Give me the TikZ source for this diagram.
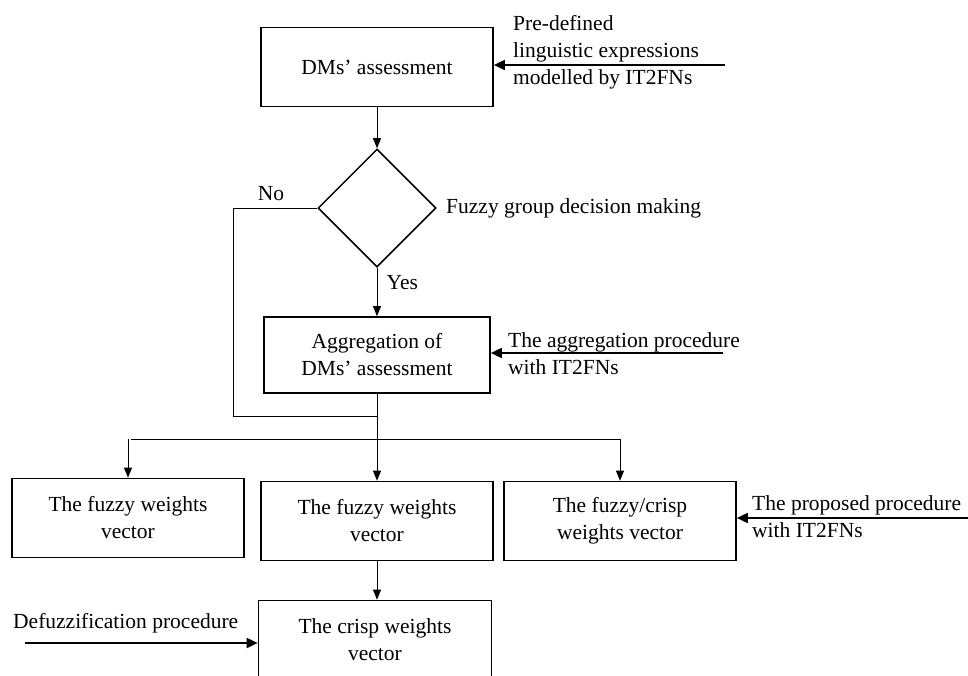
\documentclass[tikz,border=0pt]{standalone}
\usepackage{fontspec}
\setmainfont{Liberation Serif}
\usetikzlibrary{positioning,shapes.geometric,arrows.meta}

\begin{document}
\begin{tikzpicture}[x=1pt, y=-1pt,
  font=\fontsize{21.5}{27}\selectfont,
  main/.style = {draw, line width=1.7pt, minimum width=232pt, minimum height=79pt, align=center, inner sep=2pt},
  dec/.style = {draw, diamond, aspect=1, line width=1.5pt, minimum size=118pt, inner sep=0pt},
  txt/.style = {anchor=west, align=left, inner sep=0pt},
  link/.style = {line width=0.8pt, -{Triangle[length=10pt,width=8pt]}},
  feed/.style = {line width=1.8pt, -{Triangle[length=11pt,width=10pt]}}]
\path[use as bounding box, clip] (0,0) rectangle (968,675);

\node[main] (1) at (377,67) {DMs' assessment};
\node[dec] (2) at (377,208) {};
\node[main, minimum width=226pt, minimum height=76pt] (3) at (377,355) {Aggregation of\\DMs' assessment};
\node[main] (4) at (128,518) {The fuzzy weights\\vector};
\node[main] (5) at (377,521) {The fuzzy weights\\vector};
\node[main] (6) at (620,521) {The fuzzy/crisp\\weights vector};
\node[main, minimum width=233pt] (7) at (375,640) {The crisp weights\\vector};

% side texts
\node[txt] (a) at (513,52) {Pre-defined\\linguistic expressions\\modelled by IT2FNs};
\node[txt] (b) at (446,208) {Fuzzy group decision making};
\node[txt] (c) at (508,354) {The aggregation procedure\\with IT2FNs};
\node[txt] (d) at (752,517) {The proposed procedure\\with IT2FNs};
\node[txt] (e) at (13,623) {Defuzzification procedure};

\coordinate (fa) at (725,65);
\coordinate (fc) at (723,353);
\coordinate (fd) at (968,518);
\coordinate (fe) at (25,643);
\coordinate (j) at (377,416);
\coordinate (s) at (377,439);

\draw[link] (1) -- (2);
\draw[link] (2) -- node[pos=0.3, right=6pt] {Yes} (3);
\draw[line width=0.8pt] (2.west) -- node[pos=0.55, above=4pt] {No} (233,208) -- (233,416) -- (j);
\draw[line width=0.8pt] (3) -- (s);
\draw[link] (s) -- (5);
\draw[line width=0.8pt] (131,439) -- (620,439);
\draw[link] (s -| 4) -- (4);
\draw[link] (s -| 6) -- (6);
\draw[link] (5.south) -- (5.south |- 7.north);

\draw[feed] (fa) -- (fa -| 1.east);
\draw[feed] (fc) -- (fc -| 3.east);
\draw[feed] (fd) -- (fd -| 6.east);
\draw[feed] (fe) -- (fe -| 7.west);

\end{tikzpicture}
\end{document}
